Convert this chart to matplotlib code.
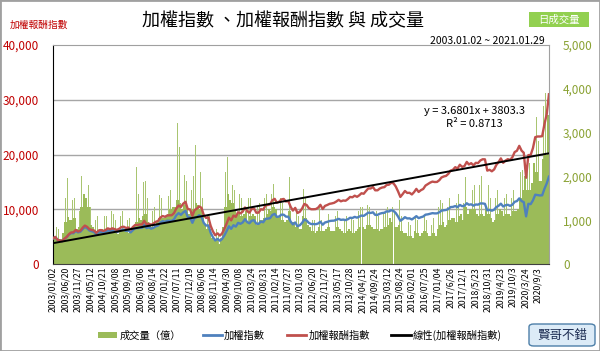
import datetime as dt

import matplotlib
matplotlib.use('Agg')
import matplotlib.dates as mdates
import numpy as np
import pandas as pd
from matplotlib import pyplot as plt
from matplotlib.lines import Line2D
from matplotlib.patches import Patch, Rectangle, FancyBboxPatch
from matplotlib.ticker import FuncFormatter, MultipleLocator

plt.rcParams['font.family'] = ['Noto Sans CJK TC', 'DejaVu Sans']

# --- data ---
first_day = '2003-01-02'
last_day = '2021-01-29'

# index values: first day, each month end 2003/01..2020/12, last day
taiex = [4650,
         4940, 4430, 4320, 4150, 4560, 4870, 5320, 5650, 5610, 6050, 5770, 5890,
         6375, 6750, 6520, 6120, 5980, 5840, 5420, 5770, 5845, 5705, 5845, 6140,
         5990, 6150, 6005, 5820, 6010, 6240, 6310, 6035, 6120, 5765, 6200, 6550,
         6530, 6630, 6610, 7170, 6560, 6700, 6450, 6610, 6885, 7020, 7570, 7820,
         7700, 7900, 7880, 7880, 8150, 8880, 9290, 8980, 9410, 9710, 8590, 8510,
         7520, 8410, 8570, 8920, 8620, 7520, 7020, 7050, 5720, 4870, 4300, 4590,
         4250, 4560, 5210, 5990, 6890, 6430, 7080, 6830, 7510, 7340, 7580, 8190,
         7640, 7440, 7920, 8000, 7370, 7330, 7760, 7620, 8240, 8290, 8370, 8970,
         9150, 8600, 8680, 9010, 9000, 8650, 8640, 7740, 7230, 7590, 6900, 7070,
         7520, 8120, 7930, 7500, 7300, 7300, 7270, 7400, 7720, 7170, 7580, 7700,
         7850, 7900, 7920, 8090, 8250, 8060, 8110, 8020, 8170, 8450, 8400, 8610,
         8460, 8640, 8850, 8790, 9080, 9390, 9320, 9440, 8970, 8970, 9190, 9310,
         9360, 9620, 9590, 9820, 9700, 9320, 8670, 7900, 8180, 8550, 8320, 8340,
         8140, 8410, 8740, 8380, 8540, 8670, 9010, 9070, 9170, 9290, 9240, 9250,
         9450, 9750, 9810, 9870, 10040, 10400, 10430, 10590, 10380, 10790, 10560, 10640,
         11100, 10820, 10900, 10660, 10870, 10840, 11060, 11060, 10990, 9800, 9890, 9730,
         9930, 10390, 10640, 11020, 10500, 10730, 10820, 10620, 10830, 11360, 11490, 11990,
         11500, 11290, 8700, 10990, 10940, 11620, 12660, 12590, 12520, 12550, 13720, 14730,
         15950]

reward = [4700,
          4940, 4430, 4320, 4150, 4610, 4920, 5430, 5760, 5780, 6230, 5940, 6070,
          6630, 7020, 6780, 6360, 6220, 6130, 5690, 6120, 6200, 6050, 6200, 6510,
          6350, 6520, 6370, 6230, 6430, 6740, 6810, 6580, 6670, 6280, 6760, 7140,
          7120, 7230, 7200, 7890, 7220, 7370, 7160, 7400, 7710, 7860, 8480, 8760,
          8620, 8850, 8900, 8900, 9290, 10120, 10680, 10420, 11010, 11360, 10050, 9960,
          8800, 9840, 10110, 10530, 10260, 8950, 8420, 8530, 6980, 5940, 5250, 5600,
          5190, 5560, 6410, 7370, 8470, 7970, 8850, 8610, 9460, 9250, 9550, 10320,
          9630, 9370, 10060, 10160, 9360, 9380, 10010, 9910, 10710, 10780, 10880, 11660,
          11900, 11180, 11370, 11800, 11880, 11420, 11490, 10450, 9760, 10250, 9320, 9540,
          10150, 10960, 10780, 10200, 10000, 10000, 10030, 10290, 10810, 10040, 10610, 10780,
          10990, 11060, 11170, 11410, 11720, 11450, 11600, 11550, 11850, 12250, 12180, 12480,
          12270, 12530, 12920, 12830, 13350, 13800, 13790, 14070, 13460, 13460, 13790, 13970,
          14040, 14430, 14480, 14830, 14740, 14170, 13270, 12250, 12760, 13340, 12980, 13010,
          12700, 13120, 13720, 13160, 13490, 13700, 14330, 14600, 14860, 15050, 14970, 14990,
          15310, 15800, 15990, 16090, 16470, 17060, 17210, 17690, 17440, 18130, 17740, 17880,
          18650, 18180, 18420, 18020, 18480, 18430, 18910, 19130, 19120, 17050, 17210, 16930,
          17280, 18080, 18620, 19290, 18480, 18880, 19150, 19010, 19490, 20450, 20680, 21580,
          20700, 20320, 15750, 19890, 19910, 21150, 23170, 23290, 23290, 23340, 25520, 27400,
          31000]

# daily turnover (億), per month 2003/01..2021/01: typical level and highest day
vol_base = [650, 600, 560, 560, 700, 950, 1070, 1000, 1000, 1050, 800, 850,
            1300, 1600, 1500, 1300, 900, 850, 750, 750, 800, 800, 750, 750,
            750, 800, 780, 700, 680, 750, 800, 750, 750, 700, 780, 850,
            950, 1050, 1000, 1100, 1150, 950, 900, 850, 850, 950, 1050, 1050,
            1050, 1100, 1150, 1250, 1300, 1300, 1450, 1400, 1250, 1350, 1300, 1150,
            1200, 1250, 1400, 1350, 1250, 1100, 900, 800, 800, 600, 550, 550,
            450, 600, 850, 1300, 1600, 1450, 1400, 1200, 1150, 1150, 1100, 1150,
            1200, 950, 1100, 1150, 1100, 900, 1000, 1000, 1050, 1150, 1250, 1200,
            1300, 1250, 1100, 1100, 1000, 950, 1000, 1200, 950, 950, 850, 800,
            800, 1100, 1050, 900, 850, 750, 700, 750, 850, 750, 750, 800,
            850, 750, 750, 750, 850, 800, 750, 700, 750, 800, 750, 700,
            750, 800, 850, 850, 800, 900, 900, 850, 800, 800, 750, 800,
            800, 850, 900, 1050, 950, 850, 850, 900, 750, 700, 700, 650,
            650, 600, 750, 700, 650, 700, 750, 700, 650, 650, 700, 650,
            800, 900, 950, 850, 900, 1000, 1050, 1050, 950, 1100, 1150, 1000,
            1300, 1150, 1250, 1250, 1250, 1150, 1100, 1150, 1100, 1300, 1150, 1050,
            950, 1000, 1150, 1250, 1200, 1100, 1150, 1150, 1100, 1200, 1200, 1250,
            1500, 1700, 2000, 1700, 1700, 1850, 2300, 2100, 1900, 1900, 2400, 2500,
            3400]

vol_peak = [1350, 850, 800, 850, 1100, 1500, 1960, 1510, 1450, 1500, 1100, 1200,
            2000, 2530, 2450, 1800, 1300, 1300, 1000, 1100, 1200, 1390, 1100, 1100,
            1100, 1200, 1150, 1000, 950, 1100, 1200, 1050, 1000, 1050, 1200, 1300,
            2220, 1600, 1400, 1880, 1900, 1500, 1300, 1200, 1300, 1400, 1580, 1500,
            1500, 1600, 1550, 1700, 2200, 2300, 3220, 2670, 1900, 2040, 1900, 1760,
            1700, 2000, 2720, 2100, 2100, 1500, 1300, 1100, 1100, 900, 800, 800,
            700, 900, 1400, 2100, 2450, 2000, 1800, 1700, 1600, 1600, 1500, 1600,
            1930, 1500, 1500, 1600, 1700, 1300, 1400, 1300, 1500, 1600, 1760, 1600,
            1830, 1800, 1500, 1500, 1400, 1300, 1400, 1990, 1400, 1350, 1200, 1100,
            1100, 1720, 1500, 1300, 1200, 1000, 1000, 1100, 1300, 1000, 1050, 1100,
            1150, 1050, 1050, 1100, 1200, 1100, 1000, 1000, 1100, 1150, 1050, 1000,
            1100, 1200, 1300, 1300, 1200, 1350, 1300, 1200, 1150, 1200, 1100, 1150,
            1150, 1200, 1300, 1690, 1300, 1200, 1200, 1460, 1100, 1000, 1000, 950,
            900, 850, 1050, 1000, 900, 1000, 1100, 1000, 950, 900, 1050, 900,
            1300, 1460, 1400, 1200, 1300, 1500, 1600, 1500, 1400, 1600, 1690, 1400,
            1990, 1900, 1800, 1700, 1800, 2150, 1800, 2000, 1800, 2300, 1800, 1500,
            1400, 1500, 1700, 1700, 1700, 1500, 1600, 1600, 1500, 1700, 1650, 1700,
            2100, 2150, 2830, 2300, 2300, 2700, 3500, 3360, 2800, 2600, 3600, 3900,
            4430]

# linear trend of the reward index, x = trading day number
trend_slope = 3.6801
trend_intercept = 3803.3
trading_days = 4460

tick_labels = ['2003/01/02', '2003/06/20', '2003/11/27', '2004/05/12', '2004/10/21',
               '2005/04/08', '2005/09/19', '2006/03/06', '2006/08/14', '2007/01/22',
               '2007/07/11', '2007/12/19', '2008/06/06', '2008/11/14', '2009/04/30',
               '2009/10/08', '2010/03/24', '2010/08/31', '2011/02/14', '2011/07/27',
               '2012/01/03', '2012/06/20', '2012/11/27', '2013/05/17', '2013/10/28',
               '2014/04/15', '2014/09/24', '2015/03/12', '2015/08/24', '2016/02/01',
               '2016/07/25', '2017/01/04', '2017/6/26', '2017/12/1', '2018/5/23',
               '2018/10/31', '2019/4/23', '2019/10/3', '2020/3/24', '2020/9/3']

# --- positions ---
t0 = pd.Timestamp(first_day)
t1 = pd.Timestamp(last_day)
month_ends = pd.date_range('2003-02-01', '2021-01-01', freq='MS') - pd.Timedelta(days=1)
x_line = mdates.date2num([t0] + list(month_ends) + [t1])
x_vol = mdates.date2num(pd.date_range('2003-01-01', '2021-01-01', freq='MS') + pd.Timedelta(days=15))
x_ticks = mdates.date2num([dt.datetime.strptime(s, '%Y/%m/%d') for s in tick_labels])
x0, x1 = mdates.date2num(t0), mdates.date2num(t1)

W, H = 600, 351
fig = plt.figure(figsize=(W / 100, H / 100), dpi=100)
ax = fig.add_axes([53 / W, 87 / H, 496 / W, 219 / H])
ax2 = ax.twinx()
ax.set_zorder(ax2.get_zorder() + 1)
ax.patch.set_visible(False)

green = '#9bbb59'
for g in [1250, 2500, 3750]:
    ax2.axhline(g, color='#a6a6a6', lw=1, zorder=0)
ax2.bar(x_vol, vol_peak, width=8, color='#a9c571', linewidth=0, zorder=1)
ax2.bar(x_vol, vol_base, width=30.6, color=green, linewidth=0, zorder=2)

ax.plot(x_line, taiex, color='#4f81bd', lw=1.7, zorder=3)
ax.plot(x_line, reward, color='#c0504d', lw=1.7, zorder=4)
ax.plot([x0, x1], [trend_slope * 1 + trend_intercept, trend_slope * trading_days + trend_intercept],
        color='black', lw=1.4, zorder=5)

ax.set_xlim(x0 - 1, x1 + 1)
ax.set_ylim(0, 40000)
ax2.set_ylim(0, 5000)
ax.yaxis.set_major_locator(MultipleLocator(10000))
ax2.yaxis.set_major_locator(MultipleLocator(1000))
fmt = FuncFormatter(lambda v, p: f'{v:,.0f}')
ax.yaxis.set_major_formatter(fmt)
ax2.yaxis.set_major_formatter(fmt)
ax.tick_params(axis='y', length=0, pad=10, labelsize=8.5, labelcolor='#c00000')
ax2.tick_params(axis='y', length=0, pad=10, labelsize=8.5, labelcolor='#8aa233')
ax.set_xticks(x_ticks)
ax.set_xticklabels(tick_labels, rotation=90, fontsize=6.3)
ax.tick_params(axis='x', length=0, pad=2)

for s in ax2.spines.values():
    s.set_visible(False)
ax.spines['left'].set_color('black')
ax.spines['bottom'].set_color('#404040')
ax.spines['top'].set_color('#a0a0a0')
ax.spines['right'].set_color('#a0a0a0')

# texts
fig.text(283 / W, 1 - 21 / H, '加權指數 、加權報酬指數 與 成交量', ha='center', va='center', fontsize=13)
fig.text(10 / W, 1 - 25 / H, '加權報酬指數', color='#c00000', fontsize=7, va='center')
fig.text(545 / W, 1 - 41 / H, '2003.01.02 ~ 2021.01.29', ha='right', va='center', fontsize=7.5)
fig.add_artist(Rectangle((529 / W, 1 - 27 / H), 60 / W, 15 / H, transform=fig.transFigure,
                         facecolor='#92d050', edgecolor='none'))
fig.text(559 / W, 1 - 19.5 / H, '日成交量', color='white', ha='center', va='center', fontsize=7.5)
fig.text(474 / W, 1 - 111 / H, 'y = 3.6801x + 3803.3', ha='center', va='center', fontsize=8)
fig.text(474 / W, 1 - 124 / H, 'R² = 0.8713', ha='center', va='center', fontsize=8)

handles = [Patch(facecolor=green, edgecolor='none'),
           Line2D([], [], color='#4f81bd', lw=2),
           Line2D([], [], color='#c0504d', lw=2),
           Line2D([], [], color='black', lw=2)]
labels = ['成交量（億）', '加權指數', '加權報酬指數', '線性(加權報酬指數)']
fig.legend(handles, labels, loc='center', bbox_to_anchor=(300 / W, 1 - 335 / H), ncol=4,
           frameon=False, fontsize=7.4, handlelength=1.9, handleheight=0.6,
           handletextpad=0.2, columnspacing=2.1)

fig.add_artist(FancyBboxPatch((529 / W, 5 / H), 66 / W, 22 / H, transform=fig.transFigure,
                              boxstyle='round,pad=0,rounding_size=0.008',
                              facecolor='#dcebf7', edgecolor='#4d7fa8', lw=1))
fig.text(562 / W, 16 / H, '賢哥不錯', ha='center', va='center', fontsize=9, color='#1a2a50')
fig.add_artist(Rectangle((0, 0), 1, 1, transform=fig.transFigure, fill=False,
                         edgecolor='#a0a0a0', lw=2))

fig.savefig('out.png', dpi=100)
